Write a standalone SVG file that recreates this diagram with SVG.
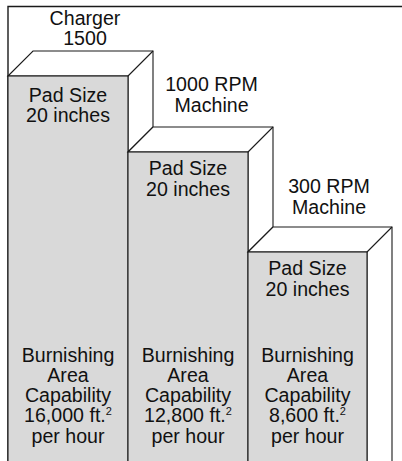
<svg xmlns="http://www.w3.org/2000/svg" width="402" height="461" viewBox="0 0 402 461">
<style>
.ln{fill:none;stroke:#1a1a1a;stroke-width:1.1}
.front{fill:#d9d9d9;stroke:#1a1a1a;stroke-width:1.1}
.face{fill:#fff;stroke:#1a1a1a;stroke-width:1.1;stroke-linejoin:miter}
text{font-family:"Liberation Sans",Arial,sans-serif;font-size:19.6px;fill:#111;text-anchor:middle}
.sup{font-size:11px}
</style>
<rect width="402" height="461" fill="#fff"/>
<g id="frame">
<polyline class="ln" points="8,461 8,6.5 402,6.5" style="stroke-width:1.4"/>
</g>
<g id="charger">
<polygon class="face" points="8,76 33,51 153,51 153,127 128,152 128,76"/>
<line class="ln" x1="128" y1="76" x2="153" y2="51"/>
<rect class="front" x="8" y="76" width="120" height="390"/>
<text x="85" y="24.8">Charger</text>
<text x="85" y="45">1500</text>
<text x="68" y="101.5">Pad Size</text>
<text x="68" y="121.8">20 inches</text>
<text x="68" y="361.5">Burnishing</text>
<text x="68" y="381.8">Area</text>
<text x="68" y="402.1">Capability</text>
<text x="68" y="422.4">16,000 ft.<tspan class="sup" dy="-7">2</tspan></text>
<text x="68" y="442.7">per hour</text>
</g>
<g id="rpm1000">
<polygon class="face" points="128,152 153,127 273,127 273,227 248,252 248,152"/>
<line class="ln" x1="248" y1="152" x2="273" y2="127"/>
<rect class="front" x="128" y="152" width="120" height="314"/>
<text x="211.5" y="91">1000 RPM</text>
<text x="211.5" y="112">Machine</text>
<text x="188" y="174.5">Pad Size</text>
<text x="188" y="195.5">20 inches</text>
<text x="188" y="361.5">Burnishing</text>
<text x="188" y="381.8">Area</text>
<text x="188" y="402.1">Capability</text>
<text x="188" y="422.4">12,800 ft.<tspan class="sup" dy="-7">2</tspan></text>
<text x="188" y="442.7">per hour</text>
</g>
<g id="rpm300">
<polygon class="face" points="248,252 273,227 392,227 392,466 367,466 367,252"/>
<line class="ln" x1="367" y1="252" x2="392" y2="227"/>
<rect class="front" x="248" y="252" width="119" height="214"/>
<text x="329" y="192.5">300 RPM</text>
<text x="329" y="213.5">Machine</text>
<text x="307.5" y="274.5">Pad Size</text>
<text x="307.5" y="295.5">20 inches</text>
<text x="307.5" y="361.5">Burnishing</text>
<text x="307.5" y="381.8">Area</text>
<text x="307.5" y="402.1">Capability</text>
<text x="307.5" y="422.4">8,600 ft.<tspan class="sup" dy="-7">2</tspan></text>
<text x="307.5" y="442.7">per hour</text>
</g>
</svg>
